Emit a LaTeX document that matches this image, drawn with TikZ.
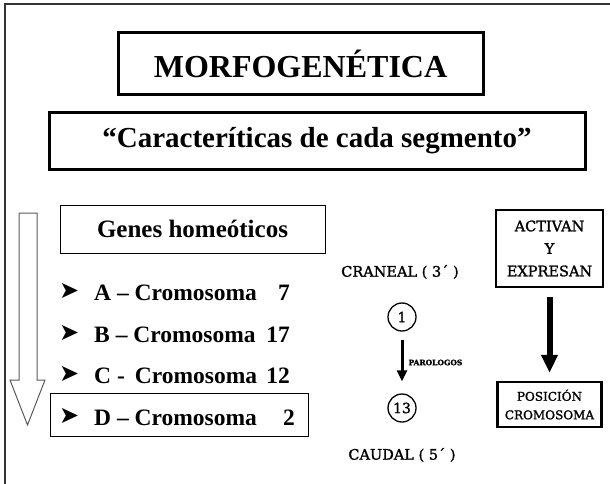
\documentclass[tikz,border=0pt]{standalone}
\usepackage{fontspec}
\setmainfont{Liberation Serif}
\newfontfamily\slabfont[FakeBold=1.5]{DejaVu Serif}
\newfontfamily\dingfont{DejaVu Sans}
\usetikzlibrary{positioning}
\usetikzlibrary{arrows.meta}

\begin{document}
\begin{tikzpicture}[x=1pt,y=-1pt,
  thickbox/.style={draw, line width=3pt, inner sep=0pt},
  thinbox/.style={draw, line width=1pt, inner sep=0pt},
  item/.style={anchor=base west, inner sep=0pt, font=\fontsize{23.5}{26}\selectfont\bfseries},
  num/.style={anchor=base east, inner sep=0pt, font=\fontsize{23.5}{26}\selectfont\bfseries},
  bullet/.style={anchor=base west, inner sep=0pt, font=\dingfont\fontsize{24}{26}\selectfont},
  slab/.style={inner sep=0pt, align=center, font=\slabfont\fontsize{14.5}{22.5}\selectfont},
  ring/.style={draw, circle, line width=1.3pt, minimum size=28pt, inner sep=0pt, font=\slabfont\fontsize{14}{16}\selectfont}]
\useasboundingbox (0,0) rectangle (610,484);
\draw[line width=1.2pt, black!80] (5,484) -- (5,4) -- (610,4);

\node (title) [thickbox, minimum width=365pt, minimum height=62pt, font=\fontsize{32}{36}\selectfont\bfseries] at (300.5,64) {MORFOGENÉTICA};
\node (seg) [thickbox, minimum width=536pt, minimum height=56pt, font=\fontsize{29}{34}\selectfont\bfseries] at (317,141) {“Caracteríticas de cada segmento”};

% genes homeoticos
\node (genes) [thinbox, minimum width=265pt, minimum height=48pt, font=\fontsize{25}{30}\selectfont\bfseries] at (192.5,229) {Genes homeóticos};
\draw[line width=1pt, black!65] (19,213) -- (37,213) -- (37,380) -- (45,380) -- (27.5,425) -- (10,380) -- (19,380) -- cycle;

\node (bA) [bullet] at (59,298) {➤};
\node (tA) [item] at (94,300) {A – Cromosoma};
\node (nA) [num] at (290,300) {7};
\node (bB) [bullet] at (59,340) {➤};
\node (tB) [item] at (94,342) {B – Cromosoma};
\node (nB) [num] at (290,342) {17};
\node (bC) [bullet] at (59,381) {➤};
\node (tC) [item] at (94,383) {C -\hspace{10pt}Cromosoma};
\node (nC) [num] at (290,383) {12};
\node (bD) [bullet] at (59,423) {➤};
\node (tD) [item] at (94,425) {D – Cromosoma};
\node (nD) [num] at (295,425) {2};
\node (dbox) [thinbox, minimum width=258pt, minimum height=43pt] at (179,414.5) {};

% craneal - caudal
\node (cran) [slab] at (400,272) {CRANEAL ( 3´ )};
\node (c1) [ring] at (402,317) {1};
\node (c13) [ring] at (402,408) {13};
\node (caud) [slab] at (402,455) {CAUDAL ( 5´ )};
\draw[line width=3pt, -{Triangle[width=10pt,length=11pt]}, shorten <=8pt, shorten >=12pt] (c1) -- (c13)
  node (par) [midway, right=5pt, inner sep=0pt, font=\slabfont\bfseries\fontsize{7.5}{9}\selectfont] {PAROLOGOS};

% activan
\node (act) [slab, draw, line width=1.5pt, minimum width=107pt, minimum height=77pt] at (549.5,248.5) {ACTIVAN\\Y\\EXPRESAN};
\node (pos) [slab, draw, line width=2.5pt, minimum width=104pt, minimum height=45pt, font=\slabfont\fontsize{12}{18.5}\selectfont] at (549.5,404.5) {POSICIÓN\\CROMOSOMA};
\draw[line width=6pt, -{Triangle[width=16pt,length=18pt]}, shorten <=9pt, shorten >=8pt] (act) -- (pos);
\end{tikzpicture}
\end{document}
